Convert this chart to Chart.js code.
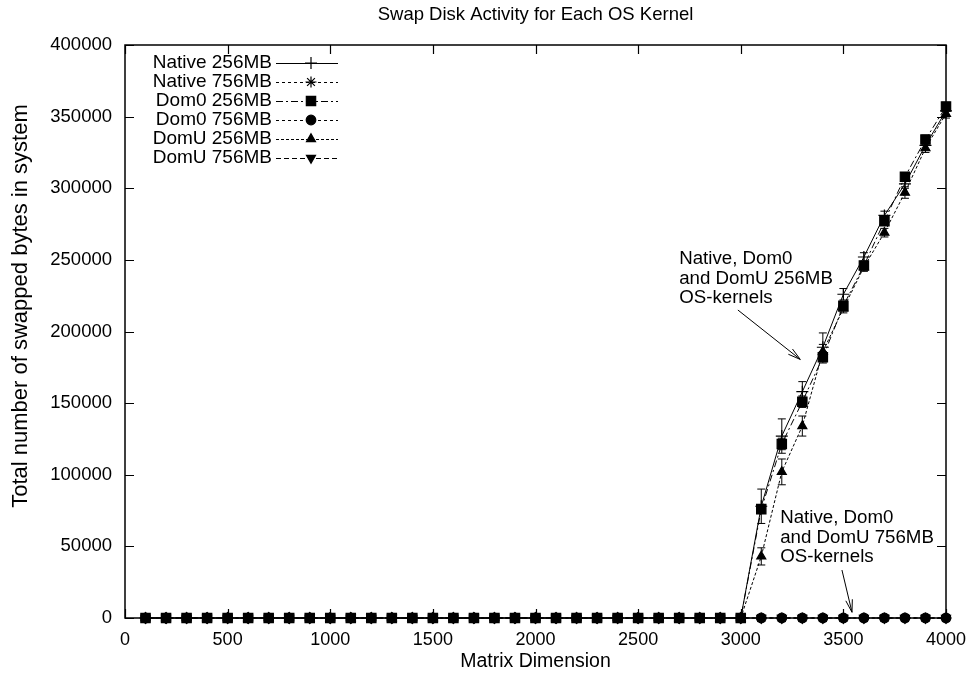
<!DOCTYPE html>
<html>
<head>
<meta charset="utf-8">
<title>Swap Disk Activity for Each OS Kernel</title>
<script src="https://cdn.jsdelivr.net/npm/chart.js@4/dist/chart.umd.min.js"></script>
<style>
  html, body { margin: 0; padding: 0; background: #fff; }
  #wrap { width: 979px; height: 680px; }
</style>
</head>
<body>
<div id="wrap"><canvas id="swapChart"></canvas></div>
<script>
// --- Data ---
const dims = [100, 200, 300, 400, 500, 600, 700, 800, 900, 1000,
              1100, 1200, 1300, 1400, 1500, 1600, 1700, 1800, 1900, 2000,
              2100, 2200, 2300, 2400, 2500, 2600, 2700, 2800, 2900, 3000,
              3100, 3200, 3300, 3400, 3500, 3600, 3700, 3800, 3900, 4000];

const native256 = [0, 0, 0, 0, 0, 0, 0, 0, 0, 0, 0, 0, 0, 0, 0, 0, 0, 0, 0, 0,
                   0, 0, 0, 0, 0, 0, 0, 0, 0, 0,
                   78000, 127000, 158000, 189000, 226000, 252000, 281000, 303000, 330000, 354000];
const native756 = [0, 0, 0, 0, 0, 0, 0, 0, 0, 0, 0, 0, 0, 0, 0, 0, 0, 0, 0, 0,
                   0, 0, 0, 0, 0, 0, 0, 0, 0, 0, 0, 0, 0, 0, 0, 0, 0, 0, 0, 0];
const dom0256 = [0, 0, 0, 0, 0, 0, 0, 0, 0, 0, 0, 0, 0, 0, 0, 0, 0, 0, 0, 0,
                 0, 0, 0, 0, 0, 0, 0, 0, 0, 0,
                 76000, 121500, 151000, 182000, 218000, 246000, 277000, 308000, 334000, 357000];
const dom0756 = [0, 0, 0, 0, 0, 0, 0, 0, 0, 0, 0, 0, 0, 0, 0, 0, 0, 0, 0, 0,
                 0, 0, 0, 0, 0, 0, 0, 0, 0, 0, 0, 0, 0, 0, 0, 0, 0, 0, 0, 0];
const domU256 = [0, 0, 0, 0, 0, 0, 0, 0, 0, 0, 0, 0, 0, 0, 0, 0, 0, 0, 0, 0,
                 0, 0, 0, 0, 0, 0, 0, 0, 0, 0,
                 43000, 102000, 134000, 186000, 216000, 245000, 269000, 297000, 328000, 352000];
const domU756 = [0, 0, 0, 0, 0, 0, 0, 0, 0, 0, 0, 0, 0, 0, 0, 0, 0, 0, 0, 0,
                 0, 0, 0, 0, 0, 0, 0, 0, 0, 0, 0, 0, 0, 0, 0, 0, 0, 0, 0, 0];

// error bars (half width) for the swapping part
const errDims = [3100, 3200, 3300, 3400, 3500, 3600, 3700, 3800, 3900, 4000];
const errNative256 = [12000, 12000, 7000, 10000, 4000, 3000, 3000, 3000, 3000, 3000];
const errDom0256 = [3000, 4000, 4000, 4000, 3000, 3000, 3000, 3000, 3000, 3000];
const errDomU256 = [6000, 9000, 7000, 5000, 3000, 3000, 3000, 4000, 3000, 3000];

const xTicks = [0, 500, 1000, 1500, 2000, 2500, 3000, 3500, 4000];
const yTicks = [0, 50000, 100000, 150000, 200000, 250000, 300000, 350000, 400000];

const seriesLabels = ['Native 256MB', 'Native 756MB', 'Dom0 256MB', 'Dom0 756MB', 'DomU 256MB', 'DomU 756MB'];
const chartTitle = 'Swap Disk Activity for Each OS Kernel';
const yTitle = 'Total number of swapped bytes in system';

const noteSwap = { lines: ['Native, Dom0', 'and DomU 256MB', 'OS-kernels'], x: 2700, y: 250600, from: [2986, 215000], to: [3290, 180500] };
const noteNoSwap = { lines: ['Native, Dom0', 'and DomU 756MB', 'OS-kernels'], x: 3192, y: 69800, from: [3493, 33500], to: [3542, 4000] };

const FONT = '"Liberation Sans", Arial, Helvetica, sans-serif';

// --- Build datasets ---
const toPoints = (vals) => dims.map((d, i) => ({ x: d, y: vals[i] }));
const styles = [
    { data: native256, dash: [], point: 'cross', r: 6, rot: 0, err: errNative256, order: 3 },
    { data: native756, dash: [3, 3], point: 'star', r: 5.5, rot: 0, err: null, order: 4 },
    { data: dom0256, dash: [7, 3, 2, 3], point: 'rect', r: 6.6, rot: 0, err: errDom0256, order: 0 },
    { data: dom0756, dash: [3, 3], point: 'circle', r: 4.8, rot: 0, err: null, order: 5 },
    { data: domU256, dash: [3, 2], point: 'triangle', r: 5.2, rot: 0, err: errDomU256, order: 2 },
    { data: domU756, dash: [5, 3], point: 'triangle', r: 5.2, rot: 180, err: null, order: 1 }
];

const datasets = styles.map((s, i) => ({
    label: seriesLabels[i],
    data: toPoints(s.data),
    borderColor: '#000',
    backgroundColor: '#000',
    borderWidth: 1,
    borderDash: s.dash,
    pointStyle: s.point,
    pointRadius: s.r,
    pointRotation: s.rot,
    pointBorderWidth: 1.2,
    pointBackgroundColor: '#000',
    pointBorderColor: '#000',
    tension: 0,
    clip: false,
    order: s.order,
    errors: s.err
}));

// --- Plugins: gnuplot look ---
const frame = {
    id: 'frame',
    beforeDatasetsDraw(chart) {
        const { ctx, chartArea: a, scales: { x, y } } = chart;
        ctx.save();
        ctx.strokeStyle = '#000';
        ctx.lineWidth = 1.5;
        ctx.strokeRect(a.left, a.top, a.right - a.left, a.bottom - a.top);
        ctx.lineWidth = 1.2;
        ctx.beginPath();
        xTicks.forEach(v => {
            const px = Math.round(x.getPixelForValue(v)) + 0.5;
            ctx.moveTo(px, a.bottom); ctx.lineTo(px, a.bottom - 9);
            ctx.moveTo(px, a.top); ctx.lineTo(px, a.top + 9);
        });
        yTicks.forEach(v => {
            const py = Math.round(y.getPixelForValue(v)) + 0.5;
            ctx.moveTo(a.left, py); ctx.lineTo(a.left + 9, py);
            ctx.moveTo(a.right, py); ctx.lineTo(a.right - 9, py);
        });
        ctx.stroke();

        // title centred over the plot
        ctx.fillStyle = '#000';
        ctx.font = '18.5px ' + FONT;
        ctx.textAlign = 'center';
        ctx.textBaseline = 'middle';
        ctx.fillText(chartTitle, (a.left + a.right) / 2, 15);

        // y axis title
        ctx.save();
        ctx.translate(21, 306);
        ctx.rotate(-Math.PI / 2);
        ctx.font = '22px ' + FONT;
        ctx.fillText(yTitle, 0, 0);
        ctx.restore();
        ctx.restore();
    },
    afterDatasetsDraw(chart) {
        const { ctx, scales: { x, y } } = chart;
        ctx.save();
        ctx.strokeStyle = '#000';
        ctx.lineWidth = 1;
        chart.data.datasets.forEach(ds => {
            if (!ds.errors) return;
            errDims.forEach((d, i) => {
                const v = ds.data[dims.indexOf(d)].y;
                const px = x.getPixelForValue(d);
                const top = y.getPixelForValue(v + ds.errors[i]);
                const bot = y.getPixelForValue(v - ds.errors[i]);
                ctx.beginPath();
                ctx.moveTo(px, top); ctx.lineTo(px, bot);
                ctx.moveTo(px - 4, top); ctx.lineTo(px + 4, top);
                ctx.moveTo(px - 4, bot); ctx.lineTo(px + 4, bot);
                ctx.stroke();
            });
        });
        ctx.restore();
    },
    afterDraw(chart) {
        const { ctx, chartArea: a, scales: { x, y } } = chart;
        ctx.save();
        ctx.fillStyle = '#000';
        ctx.strokeStyle = '#000';
        ctx.font = '19px ' + FONT;
        ctx.textBaseline = 'middle';

        // legend, top left inside the plot
        chart.data.datasets.forEach((ds, i) => {
            const cy = a.top + 18 + i * 19;
            ctx.textAlign = 'right';
            ctx.fillText(ds.label, a.left + 147, cy);
            ctx.save();
            ctx.lineWidth = 1;
            ctx.setLineDash(ds.borderDash);
            ctx.beginPath();
            ctx.moveTo(a.left + 151, cy + 0.5);
            ctx.lineTo(a.left + 213, cy + 0.5);
            ctx.stroke();
            ctx.restore();
            Chart.helpers.drawPoint(ctx, {
                pointStyle: ds.pointStyle, radius: ds.pointRadius,
                rotation: ds.pointRotation, borderWidth: ds.pointBorderWidth
            }, a.left + 186, cy);
        });

        // annotations with arrows
        ctx.font = '18.7px ' + FONT;
        [noteSwap, noteNoSwap].forEach(n => {
            ctx.textAlign = 'left';
            const tx = x.getPixelForValue(n.x);
            const ty = y.getPixelForValue(n.y);
            n.lines.forEach((t, k) => ctx.fillText(t, tx, ty + k * 19.5));
            const x1 = x.getPixelForValue(n.from[0]), y1 = y.getPixelForValue(n.from[1]);
            const x2 = x.getPixelForValue(n.to[0]), y2 = y.getPixelForValue(n.to[1]);
            const ang = Math.atan2(y2 - y1, x2 - x1);
            const hl = 13, ha = 0.26;
            ctx.lineWidth = 1;
            ctx.beginPath();
            ctx.moveTo(x1, y1); ctx.lineTo(x2, y2);
            ctx.moveTo(x2 - hl * Math.cos(ang - ha), y2 - hl * Math.sin(ang - ha));
            ctx.lineTo(x2, y2);
            ctx.lineTo(x2 - hl * Math.cos(ang + ha), y2 - hl * Math.sin(ang + ha));
            ctx.stroke();
        });
        ctx.restore();
    }
};

// --- Chart ---
new Chart(document.getElementById('swapChart').getContext('2d'), {
    type: 'line',
    data: { datasets },
    plugins: [frame],
    options: {
        responsive: true,
        maintainAspectRatio: false,
        animation: false,
        devicePixelRatio: 1,
        layout: { padding: { top: 45, right: 33, bottom: 0, left: 0 } },
        plugins: {
            legend: { display: false },
            tooltip: { enabled: false },
            title: { display: false }
        },
        scales: {
            x: {
                type: 'linear',
                min: 0, max: 4000,
                afterBuildTicks: (s) => { s.ticks = xTicks.map(v => ({ value: v })); },
                afterFit: (s) => { s.height = 62; },
                grid: { display: false, drawTicks: false },
                border: { display: false },
                ticks: { color: '#000', padding: 11, maxRotation: 0, font: { family: FONT, size: 18 },
                         callback: (v) => String(v) },
                title: {
                    display: true, text: 'Matrix Dimension', color: '#000',
                    font: { family: FONT, size: 19.5, lineHeight: 1.2 },
                    padding: { top: 0, bottom: 7 }
                }
            },
            y: {
                type: 'linear',
                min: 0, max: 400000,
                afterBuildTicks: (s) => { s.ticks = yTicks.map(v => ({ value: v })); },
                afterFit: (s) => { s.width = 125; },
                grid: { display: false, drawTicks: false },
                border: { display: false },
                ticks: { color: '#000', padding: 13, font: { family: FONT, size: 18.5 },
                         callback: (v) => String(v) },
                title: { display: false }
            }
        }
    }
});
</script>
</body>
</html>
